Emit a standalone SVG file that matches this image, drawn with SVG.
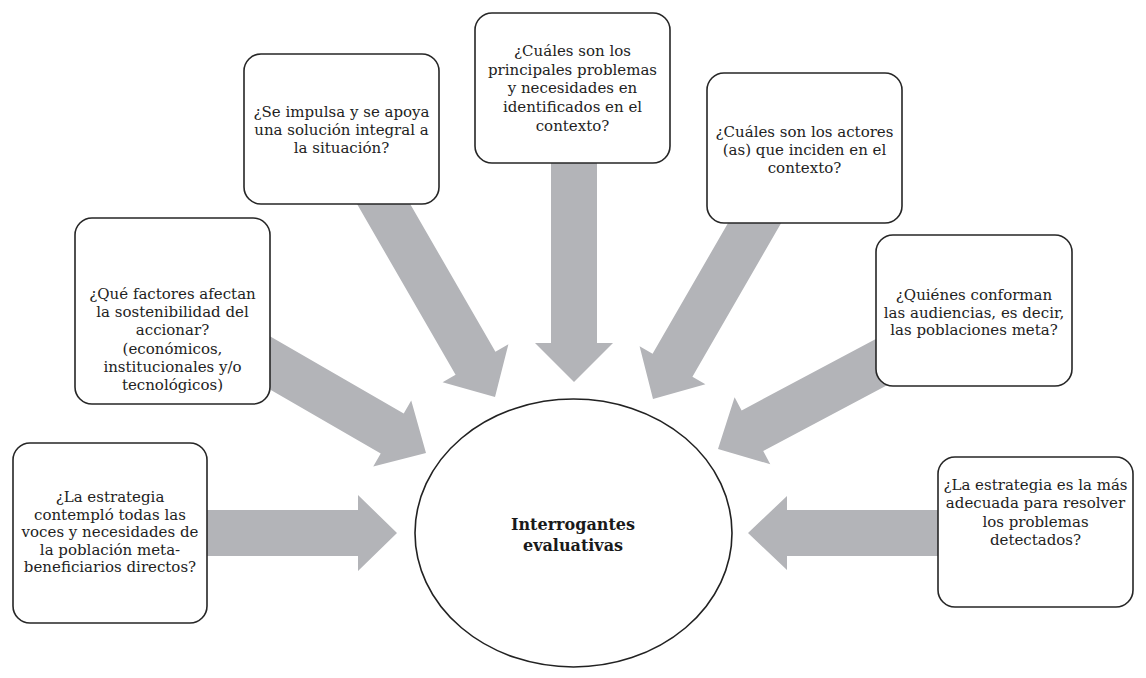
<svg xmlns="http://www.w3.org/2000/svg" width="1146" height="678" viewBox="0 0 1146 678">
<style>
.arrow { fill: #b3b4b8; stroke: none; }
.box { fill: #ffffff; stroke: #262626; stroke-width: 1.6; }
.txt { font-family: "DejaVu Serif", "Liberation Serif", serif; font-size: 15px; fill: #222222; text-anchor: middle; }
.title { font-family: "DejaVu Serif", "Liberation Serif", serif; font-size: 16px; font-weight: bold; fill: #1a1a1a; text-anchor: middle; }
</style>
<rect x="0" y="0" width="1146" height="678" fill="#ffffff"/>
<g id="connectors">
  <polygon class="arrow" transform="translate(397,533) rotate(0)" points="-195,-23 -39,-23 -39,-38 0,0 -39,38 -39,23 -195,23"/>
  <polygon class="arrow" transform="translate(426,453) rotate(30)" points="-195,-23 -39,-23 -39,-38 0,0 -39,38 -39,23 -195,23"/>
  <polygon class="arrow" transform="translate(495,397) rotate(60)" points="-241,-23 -39,-23 -39,-38 0,0 -39,38 -39,23 -241,23"/>
  <polygon class="arrow" transform="translate(574,382) rotate(90)" points="-225,-23 -39,-23 -39,-39 0,0 -39,39 -39,23 -225,23"/>
  <polygon class="arrow" transform="translate(653,399) rotate(120)" points="-222,-23 -39,-23 -39,-38 0,0 -39,38 -39,23 -222,23"/>
  <polygon class="arrow" transform="translate(718,449) rotate(152)" points="-200,-23 -39,-23 -39,-38 0,0 -39,38 -39,23 -200,23"/>
  <polygon class="arrow" transform="translate(748,533) rotate(180)" points="-194,-23 -39,-23 -39,-37 0,0 -39,37 -39,23 -194,23"/>
</g>
<g id="center">
  <ellipse cx="573.5" cy="533" rx="158.5" ry="134" fill="#ffffff" stroke="#222222" stroke-width="1.6"/>
  <text class="title" x="573" y="530">Interrogantes</text>
  <text class="title" x="573" y="551">evaluativas</text>
</g>
<g id="node-contemplo">
  <rect class="box" x="13" y="443" width="194" height="180" rx="17" ry="17"/>
  <text class="txt" x="110" y="502">¿La estrategia</text>
  <text class="txt" x="110" y="519.5">contempló todas las</text>
  <text class="txt" x="110" y="537">voces y necesidades de</text>
  <text class="txt" x="110" y="554.5">la población meta-</text>
  <text class="txt" x="110" y="572">beneficiarios directos?</text>
</g>
<g id="node-factores">
  <rect class="box" x="75" y="218" width="195" height="186" rx="17" ry="17"/>
  <text class="txt" x="172.5" y="299">¿Qué factores afectan</text>
  <text class="txt" x="172.5" y="317.2">la sostenibilidad del</text>
  <text class="txt" x="172.5" y="335.4">accionar?</text>
  <text class="txt" x="172.5" y="353.6">(económicos,</text>
  <text class="txt" x="172.5" y="371.8">institucionales y/o</text>
  <text class="txt" x="172.5" y="390">tecnológicos)</text>
</g>
<g id="node-impulsa">
  <rect class="box" x="244" y="54" width="195" height="150" rx="17" ry="17"/>
  <text class="txt" x="341.5" y="117">¿Se impulsa y se apoya</text>
  <text class="txt" x="341.5" y="135.2">una solución integral a</text>
  <text class="txt" x="341.5" y="153.4">la situación?</text>
</g>
<g id="node-problemas">
  <rect class="box" x="475" y="13" width="195" height="150" rx="17" ry="17"/>
  <text class="txt" x="572.5" y="56">¿Cuáles son los</text>
  <text class="txt" x="572.5" y="74.7">principales problemas</text>
  <text class="txt" x="572.5" y="93.4">y necesidades en</text>
  <text class="txt" x="572.5" y="112.1">identificados en el</text>
  <text class="txt" x="572.5" y="130.8">contexto?</text>
</g>
<g id="node-actores">
  <rect class="box" x="707" y="73" width="195" height="150" rx="17" ry="17"/>
  <text class="txt" x="804.5" y="137">¿Cuáles son los actores</text>
  <text class="txt" x="804.5" y="155">(as) que inciden en el</text>
  <text class="txt" x="804.5" y="173">contexto?</text>
</g>
<g id="node-audiencias">
  <rect class="box" x="876" y="235" width="196" height="151" rx="17" ry="17"/>
  <text class="txt" x="974" y="300">¿Quiénes conforman</text>
  <text class="txt" x="974" y="317.5">las audiencias, es decir,</text>
  <text class="txt" x="974" y="335">las poblaciones meta?</text>
</g>
<g id="node-adecuada">
  <rect class="box" x="938" y="457" width="195" height="150" rx="17" ry="17"/>
  <text class="txt" x="1035.5" y="490">¿La estrategia es la más</text>
  <text class="txt" x="1035.5" y="508.3">adecuada para resolver</text>
  <text class="txt" x="1035.5" y="526.6">los problemas</text>
  <text class="txt" x="1035.5" y="545">detectados?</text>
</g>
</svg>
